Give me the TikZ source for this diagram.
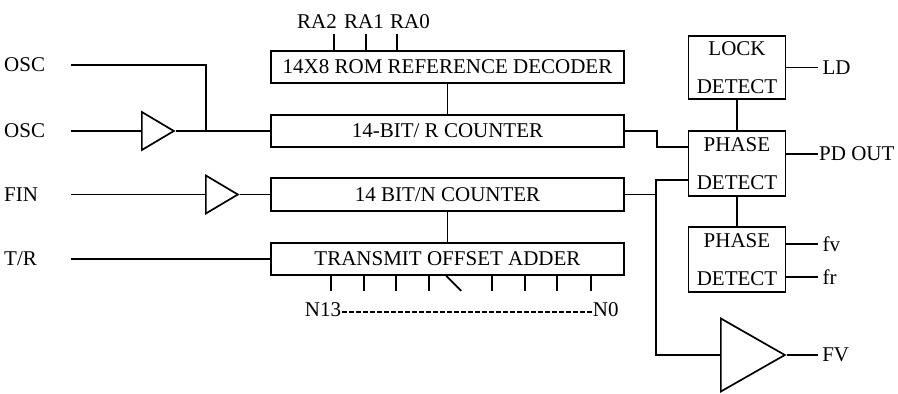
\documentclass[tikz,border=0pt]{standalone}
\usepackage{fontspec}
\setmainfont{Liberation Serif}
\usetikzlibrary{positioning,shapes.geometric,calc}

\tikzset{
  blk/.style={draw, minimum width=353pt, minimum height=32pt, inner sep=0pt},
  det/.style={draw, minimum width=97pt, minimum height=65pt, inner sep=0pt, align=center},
  buf/.style={draw, isosceles triangle, isosceles triangle stretches, inner sep=0pt,
              minimum width=38pt, minimum height=32pt, anchor=west},
  pin/.style={anchor=west, text width=63pt, align=left},
}

\begin{document}
\begin{tikzpicture}[x=1pt,y=1pt,line width=1.7pt,
  every node/.style={font=\fontsize{21}{38}\selectfont}]
\useasboundingbox (0,0) rectangle (898,394);
% counters and decoder
\node[blk] (dec) at (447.5,327) {14X8 ROM REFERENCE DECODER};
\node[blk] (rcnt) at (447.5,263) {14-BIT/ R COUNTER};
\node[blk, minimum height=33pt] (ncnt) at (447.5,199.5) {14 BIT/N COUNTER};
\node[blk] (toa) at (447.5,135) {TRANSMIT OFFSET ADDER};
% detectors
\node[det, minimum height=63pt] (lock) at (737,326.5) {LOCK\\DETECT};
\node[det] (pd) at (737,230.5) {PHASE\\DETECT};
\node[det] (pd2) at (737,134.5) {PHASE\\DETECT};
% buffers
\node[buf] (b1) at (141,263) {};
\node[buf] (b2) at (205,199.5) {};
\node[buf, minimum width=73pt, minimum height=64pt] (b3) at (720,39) {};
% inputs
\node[pin] (osc1) at (0,329) {OSC};
\node[pin] (osc2) at (0,263) {OSC};
\node[pin] (fin) at (0,199.5) {FIN};
\node[pin] (tr) at (0,135) {T/R};
\coordinate (jn) at (206,263);
\draw (osc1.east) -| (jn);
\draw (osc2.east) -- (b1.west);
\draw (b1.east) -- (rcnt.west);
\draw (fin.east) -- (b2.west);
\draw (b2.east) -- (ncnt.west);
\draw (tr.east) -- (toa.west);
\draw (dec.south) -- (rcnt.north);
\draw (ncnt.south) -- (toa.north);
% ROM address lines
\node (ra2) at (317,372) {RA2};
\node (ra1) at (364,372) {RA1};
\node (ra0) at (410,372) {RA0};
\foreach \dx in {64,96,127}
  \draw ($(dec.north west)+(\dx,0)$) -- ++(0,16);
% offset bits
\foreach \dx in {61,94,126,159,222,255,287,321}
  \draw ($(toa.south west)+(\dx,0)$) -- ++(0,-15);
\draw ($(toa.south west)+(176,0)$) -- ++(15,-15);
\node[anchor=east, inner xsep=0pt] (n13) at (342,84) {N13};
\node[anchor=west, inner xsep=0pt] (n0) at (592,84) {N0};
\draw[line width=1.2pt, dash pattern=on 5pt off 2pt]
  ([yshift=-2]n13.east) -- ([yshift=-2]n0.west);
% into the phase detector
\draw (rcnt.east) -- ++(32,0) |- ([yshift=16.5]pd.west);
\draw ([yshift=-16.5]pd.west) -- ++(-32,0) |- (b3.west);
\draw (ncnt.east) -- ++(32,0);
\draw (lock.south) -- (pd.north);
\draw (pd.south) -- (pd2.north);
% outputs
\draw (lock.east) -- ++(32,0) node[anchor=west] (ld) {LD};
\draw ([yshift=9.5]pd.east) -- ++(32,0) node[anchor=west, inner xsep=0pt] (pdout) {PD OUT};
\draw ([yshift=15.5]pd2.east) -- ++(32,0) node[anchor=west] (fvl) {fv};
\draw ([yshift=-17.5]pd2.east) -- ++(32,0) node[anchor=west] (frl) {fr};
\draw (b3.east) -- ++(31,0) node[anchor=west] (fvo) {FV};
\end{tikzpicture}
\end{document}
